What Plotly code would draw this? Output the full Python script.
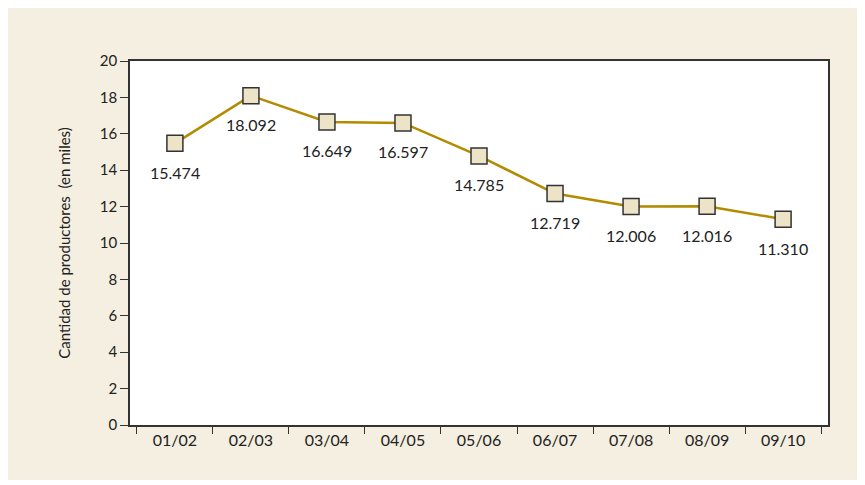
import plotly.graph_objects as go

# campañas y productores (en miles)
campanas = ["01/02", "02/03", "03/04", "04/05", "05/06", "06/07", "07/08", "08/09", "09/10"]
productores = [15.474, 18.092, 16.649, 16.597, 14.785, 12.719, 12.006, 12.016, 11.310]
y_ticks = [0, 2, 4, 6, 8, 10, 12, 14, 16, 18, 20]

BEIGE = "#f4efe0"
FONT = "Lato, 'Open Sans', sans-serif"

fig = go.Figure()
fig.add_trace(go.Scatter(
    x=campanas, y=productores, mode="lines+markers",
    line=dict(color="#b38b00", width=2.5),
    marker=dict(symbol="square", size=16, color="#ede3c6",
                line=dict(color="#333333", width=1.5)),
    hoverinfo="x+y", showlegend=False,
))

# etiquetas debajo de cada punto
for c, v in zip(campanas, productores):
    fig.add_annotation(x=c, y=v, text=f"{v:.3f}", showarrow=False,
                       yshift=-29, font=dict(size=16, color="#222222", family=FONT))

fig.update_layout(
    width=850, height=472,
    margin=dict(l=122, r=30, t=53, b=55),
    paper_bgcolor=BEIGE, plot_bgcolor="white",
    font=dict(family=FONT, color="#222222"),
)
fig.update_xaxes(
    showline=True, linecolor="#333333", linewidth=1.5, mirror=True,
    ticks="outside", tickson="boundaries", ticklen=7, tickcolor="#333333",
    tickfont=dict(size=16), showgrid=False,
)
fig.update_yaxes(
    range=[0, 20], tickvals=y_ticks,
    showline=True, linecolor="#333333", linewidth=1.5, mirror=True,
    ticks="outside", ticklen=8, tickcolor="#333333",
    tickfont=dict(size=15), showgrid=False, zeroline=False,
    title=dict(text="Cantidad de productores  (en miles)", font=dict(size=15), standoff=26),
)

fig.write_html("out.html")
